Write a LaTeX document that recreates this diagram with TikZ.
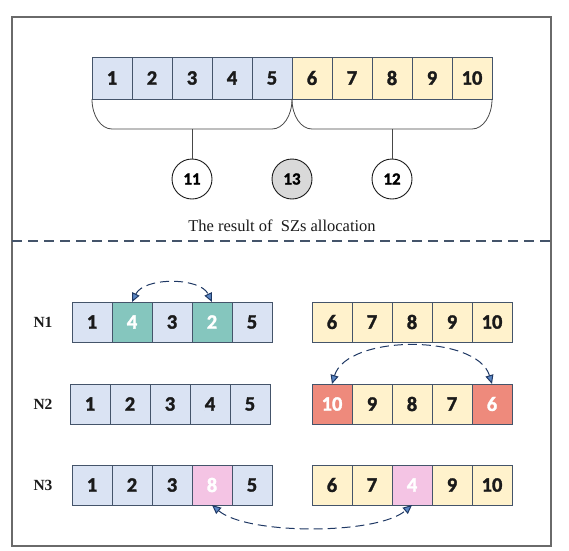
\documentclass[tikz,border=0pt]{standalone}
\usepackage{fontspec}
\setmainfont{Liberation Serif}
\newfontfamily\numfont{Carlito}[BoldFeatures={FakeBold=1.6}]
\usetikzlibrary{
  arrows.meta,
  positioning
}
\definecolor{szblue}{HTML}{DAE3F3}
\definecolor{szyellow}{HTML}{FFF2CC}
\definecolor{szteal}{HTML}{85C6BE}
\definecolor{szred}{HTML}{EE8A7C}
\definecolor{szpink}{HTML}{F4C4E4}
\definecolor{szgray}{HTML}{D9D9D9}
\definecolor{szedge}{HTML}{44546A}
\definecolor{szframe}{HTML}{6A6A6A}
\definecolor{szarrow}{HTML}{1F3864}
\definecolor{sztip}{HTML}{5B87C5}
\definecolor{szink}{HTML}{1A1A1A}

\begin{document}
\begin{tikzpicture}[x=1pt, y=-1pt,
      cell/.style={
        rectangle, draw=szedge, line width=0.9pt, outer sep=0pt, inner sep=0pt,
        minimum width=40pt, minimum height=40pt,
        font=\numfont\bfseries\fontsize{20.5}{20.5}\selectfont, text=szink
      },
      bluecell/.style={cell, fill=szblue},
      yellowcell/.style={cell, fill=szyellow},
      tealcell/.style={cell, fill=szteal, text=white},
      redcell/.style={cell, fill=szred, text=white},
      pinkcell/.style={cell, fill=szpink, text=white},
      zone/.style={
        circle, draw=szink, line width=0.9pt, minimum size=40pt, inner sep=0pt,
        fill=white, font=\numfont\bfseries\fontsize{17}{17}\selectfont
      },
      link/.style={draw=szink!80, line width=0.8pt},
      swap/.style={
        szarrow, line width=1pt, dash pattern=on 9pt off 5pt,
        {Triangle[length=9pt, width=8pt, fill=sztip]}-{Triangle[length=9pt, width=8pt, fill=sztip]}
      },
      rowlabel/.style={font=\bfseries\fontsize{15.5}{15.5}\selectfont, text=szink}
    ]
      \useasboundingbox (0,0) rectangle (569,550);
      \draw[szframe, line width=1.1pt] (12,17) rectangle (551,546);

      % SZs row
      \node[bluecell, minimum height=42pt] (t1) at (112,78) {1};
      \foreach \v [remember=\v as \p (initially 1)] in {2,...,5}
        \node[bluecell, minimum height=42pt, right=0pt of t\p] (t\v) {\v};
      \foreach \v [remember=\v as \p (initially 5)] in {6,...,10}
        \node[yellowcell, minimum height=42pt, right=0pt of t\p] (t\v) {\v};

      % Groups
      \draw[link] (t1.south west) .. controls +(0,17) and +(-11,0) .. ++(20,30)
        -- ++(160,0) .. controls +(11,0) and +(0,17) .. (t5.south east);
      \draw[link] (t6.south west) .. controls +(0,17) and +(-11,0) .. ++(20,30)
        -- ++(160,0) .. controls +(11,0) and +(0,17) .. (t10.south east);
      \path (t3.south) ++(0,30) coordinate (lgroup);
      \path (t8.south) ++(0,30) coordinate (rgroup);

      \node[zone] (c11) at (192,179) {11};
      \node[zone, fill=szgray] (c13) at (292,179) {13};
      \node[zone] (c12) at (392,179) {12};
      \draw[link] (lgroup) -- (c11);
      \draw[link] (rgroup) -- (c12);

      \node[font=\fontsize{16.5}{16.5}\selectfont, text=szink] (caption) at (282,226)
        {The result of \ SZs allocation};
      \draw[szedge, line width=1.2pt, dash pattern=on 10pt off 6pt] (12,241) -- (551,241);

      % N1
      \node[rowlabel] (l1) at (43,322) {N1};
      \node[bluecell] (n1a1) at (92,322) {1};
      \foreach \v/\s [count=\i from 2, remember=\i as \p (initially 1)] in
        {4/tealcell, 3/bluecell, 2/tealcell, 5/bluecell}
        \node[\s, right=0pt of n1a\p] (n1a\i) {\v};
      \node[yellowcell] (n1b1) at (332,322) {6};
      \foreach \v [count=\i from 2, remember=\i as \p (initially 1)] in {7,8,9,10}
        \node[yellowcell, right=0pt of n1b\p] (n1b\i) {\v};

      % N2
      \node[rowlabel] (l2) at (43,404) {N2};
      \node[bluecell] (n2a1) at (90,404) {1};
      \foreach \v [count=\i from 2, remember=\i as \p (initially 1)] in {2,3,4,5}
        \node[bluecell, right=0pt of n2a\p] (n2a\i) {\v};
      \node[redcell] (n2b1) at (332,404) {10};
      \foreach \v/\s [count=\i from 2, remember=\i as \p (initially 1)] in
        {9/yellowcell, 8/yellowcell, 7/yellowcell, 6/redcell}
        \node[\s, right=0pt of n2b\p] (n2b\i) {\v};

      % N3
      \node[rowlabel] (l3) at (43,485) {N3};
      \node[bluecell] (n3a1) at (92,485) {1};
      \foreach \v/\s [count=\i from 2, remember=\i as \p (initially 1)] in
        {2/bluecell, 3/bluecell, 8/pinkcell, 5/bluecell}
        \node[\s, right=0pt of n3a\p] (n3a\i) {\v};
      \node[yellowcell] (n3b1) at (332,485) {6};
      \foreach \v/\s [count=\i from 2, remember=\i as \p (initially 1)] in
        {7/yellowcell, 4/pinkcell, 9/yellowcell, 10/yellowcell}
        \node[\s, right=0pt of n3b\p] (n3b\i) {\v};

      % Swaps
      \draw[swap] (n1a2.north) .. controls +(12,-25) and +(-12,-25) .. (n1a4.north);
      \draw[swap] (n2b1.north) .. controls +(15,-50) and +(-15,-50) .. (n2b5.north);
      \draw[swap] (n3a4.south) .. controls +(35,30) and +(-35,30) .. (n3b3.south);
    \end{tikzpicture}
\end{document}
